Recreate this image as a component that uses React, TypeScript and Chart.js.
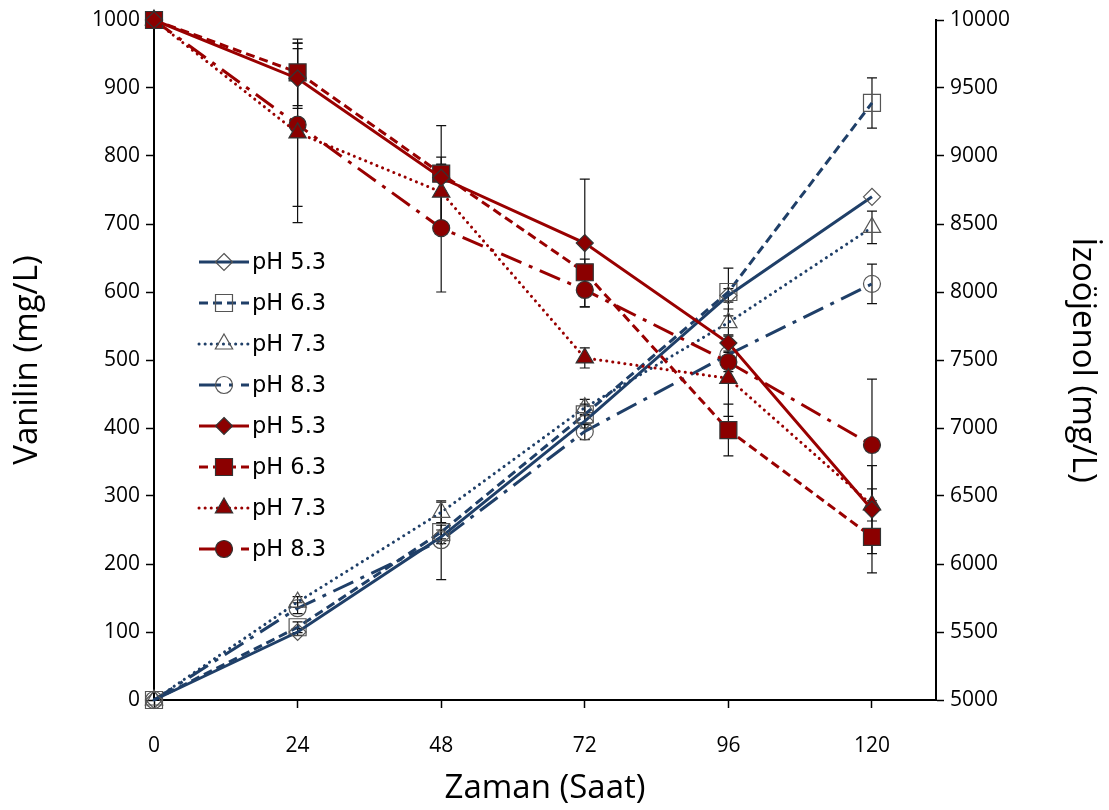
import { useEffect, useRef } from "react";
import { Chart, registerables } from "chart.js";

Chart.register(...registerables);

// ---- data ----
const hours = [0, 24, 48, 72, 96, 120];
const xTickValues = [0, 24, 48, 72, 96, 120];
const phLabels = ["pH 5.3", "pH 6.3", "pH 7.3", "pH 8.3"];

// Vanilin (mg/L) – left axis
const vanilin53 = [0, 100, 240, 410, 595, 740];
const vanilin63 = [0, 107, 247, 420, 600, 878];
const vanilin73 = [0, 144, 276, 430, 555, 695];
const vanilin83 = [0, 135, 235, 395, 508, 612];
const vanilinErr53 = [0, 5, 10, 10, 10, 0];
const vanilinErr63 = [0, 8, 10, 15, 35, 37];
const vanilinErr73 = [0, 8, 15, 12, 20, 24];
const vanilinErr83 = [0, 8, 58, 12, 12, 29];

// İzoöjenol (mg/L) – right axis
const izo53 = [10000, 9570, 8840, 8360, 7625, 6400];
const izo63 = [10000, 9615, 8870, 8145, 6985, 6200];
const izo73 = [10000, 9170, 8735, 7515, 7365, 6434];
const izo83 = [10000, 9230, 8470, 8015, 7485, 6875];
const izoErr53 = [0, 220, 96, 470, 60, 324];
const izoErr63 = [0, 245, 353, 96, 190, 265];
const izoErr73 = [0, 660, 257, 74, 280, 118];
const izoErr83 = [0, 600, 470, 125, 70, 485];

// ---- styles ----
const BLUE = "#1F3F68";
const RED = "#990000";
const RED_FILL = "#8B0000";
const TICK_FONT = "'Liberation Sans Narrow', 'Open Sans', sans-serif";
const LEGEND_FONT = "'DejaVu Sans', sans-serif";

const styles = [
  { dash: [] as number[], cap: "butt", point: "rectRot", r: 8.5 },
  { dash: [9, 5], cap: "butt", point: "rect", r: 12 },
  { dash: [0.1, 6], cap: "round", point: "triangle", r: 10 },
  { dash: [22, 8, 4, 8], cap: "butt", point: "circle", r: 8.5 },
];

function drawMarker(ctx: CanvasRenderingContext2D, style: string, x: number, y: number, r: number) {
  ctx.beginPath();
  if (style === "rectRot") {
    ctx.moveTo(x, y - r);
    ctx.lineTo(x + r, y);
    ctx.lineTo(x, y + r);
    ctx.lineTo(x - r, y);
    ctx.closePath();
  } else if (style === "rect") {
    const s = r * Math.SQRT1_2;
    ctx.rect(x - s, y - s, 2 * s, 2 * s);
  } else if (style === "triangle") {
    const a = (2 * Math.PI) / 3;
    ctx.moveTo(x, y - r);
    ctx.lineTo(x + Math.sin(a) * r, y - Math.cos(a) * r);
    ctx.lineTo(x + Math.sin(2 * a) * r, y - Math.cos(2 * a) * r);
    ctx.closePath();
  } else {
    ctx.arc(x, y, r, 0, Math.PI * 2);
  }
}

const errorBarPlugin = {
  id: "errorBars",
  beforeDatasetsDraw(chart: any) {
    const ctx = chart.ctx;
    ctx.save();
    ctx.strokeStyle = "#111";
    ctx.lineWidth = 1.2;
    chart.data.datasets.forEach((ds: any, di: number) => {
      const meta = chart.getDatasetMeta(di);
      const scale = chart.scales[ds.yAxisID];
      ds.errors.forEach((e: number, i: number) => {
        if (!e) return;
        const v = ds.data[i].y;
        const x = meta.data[i].x;
        const y1 = scale.getPixelForValue(v + e);
        const y2 = scale.getPixelForValue(v - e);
        ctx.beginPath();
        ctx.moveTo(x, y1);
        ctx.lineTo(x, y2);
        ctx.moveTo(x - 5, y1);
        ctx.lineTo(x + 5, y1);
        ctx.moveTo(x - 5, y2);
        ctx.lineTo(x + 5, y2);
        ctx.stroke();
      });
    });
    ctx.restore();
  },
};

const legendPlugin = {
  id: "innerLegend",
  afterDraw(chart: any) {
    const ctx = chart.ctx as CanvasRenderingContext2D;
    const area = chart.chartArea;
    const x0 = area.left + 45;
    const y0 = area.top + 242;
    const step = 41;
    const entries = [
      ...phLabels.map((l, i) => ({ label: l, color: BLUE, fill: "rgba(255,255,255,0)", stroke: "#555", s: styles[i] })),
      ...phLabels.map((l, i) => ({ label: l, color: RED, fill: RED_FILL, stroke: "#333", s: styles[i] })),
    ];
    ctx.save();
    entries.forEach((e, i) => {
      const y = y0 + i * step;
      ctx.beginPath();
      ctx.strokeStyle = e.color;
      ctx.lineWidth = 3;
      ctx.setLineDash(e.s.dash);
      ctx.lineCap = e.s.cap as CanvasLineCap;
      ctx.moveTo(x0, y);
      ctx.lineTo(x0 + 50, y);
      ctx.stroke();
      ctx.setLineDash([]);
      ctx.lineCap = "butt";
      drawMarker(ctx, e.s.point, x0 + 25, y, e.s.r);
      ctx.fillStyle = e.fill;
      ctx.fill();
      ctx.lineWidth = 1.2;
      ctx.strokeStyle = e.stroke;
      ctx.stroke();
      ctx.fillStyle = "#000";
      ctx.font = `22.5px ${LEGEND_FONT}`;
      ctx.textBaseline = "middle";
      ctx.textAlign = "left";
      ctx.fillText(e.label, x0 + 53, y + 1);
    });
    ctx.restore();
  },
};

export default function App() {
  const ref = useRef<HTMLCanvasElement>(null);

  useEffect(() => {
    if (!ref.current) return;
    const mk = (label: string, data: number[], errors: number[], i: number, red: boolean) => ({
      label,
      data: data.map((v, k) => ({ x: hours[k], y: v })),
      errors,
      yAxisID: red ? "yR" : "y",
      clip: false,
      borderColor: red ? RED : BLUE,
      borderWidth: 3,
      borderDash: styles[i].dash,
      borderCapStyle: styles[i].cap,
      backgroundColor: red ? RED_FILL : "rgba(255,255,255,0)",
      pointStyle: styles[i].point,
      pointRadius: styles[i].r,
      pointHoverRadius: styles[i].r,
      pointBackgroundColor: red ? RED_FILL : "rgba(255,255,255,0)",
      pointBorderColor: red ? "#333" : "#555",
      pointBorderWidth: 1.2,
      tension: 0,
      fill: false,
    });

    const datasets = [
      mk(phLabels[0], izo53, izoErr53, 0, true),
      mk(phLabels[1], izo63, izoErr63, 1, true),
      mk(phLabels[2], izo73, izoErr73, 2, true),
      mk(phLabels[3], izo83, izoErr83, 3, true),
      mk(phLabels[0], vanilin53, vanilinErr53, 0, false),
      mk(phLabels[1], vanilin63, vanilinErr63, 1, false),
      mk(phLabels[2], vanilin73, vanilinErr73, 2, false),
      mk(phLabels[3], vanilin83, vanilinErr83, 3, false),
    ];

    const tickFont = { family: TICK_FONT, size: 21 };
    const titleFont = { family: TICK_FONT, size: 33 };
    const gridOpts = { drawOnChartArea: false, drawTicks: true, tickLength: 8, color: "#000", tickWidth: 1.5 };
    const borderOpts = { display: true, color: "#000", width: 2 };
    const plain = (v: any) => String(v);

    const chart = new Chart(ref.current, {
      type: "line",
      data: { datasets: datasets as any },
      options: {
        responsive: false,
        animation: false,
        layout: { padding: { top: 20, left: 0, right: 0, bottom: 0 } },
        plugins: { legend: { display: false }, tooltip: { enabled: false } },
        scales: {
          x: {
            type: "linear",
            min: 0,
            max: 130.7,
            afterBuildTicks: (s: any) => {
              s.ticks = xTickValues.map((v) => ({ value: v }));
            },
            afterFit: (s: any) => {
              s.height = 110;
            },
            grid: gridOpts,
            border: borderOpts,
            ticks: { color: "#000", font: tickFont, padding: 25, maxRotation: 0, callback: plain },
            title: { display: true, text: "Zaman (Saat)", color: "#000", font: titleFont, padding: { top: 0, bottom: 2 } },
          },
          y: {
            type: "linear",
            position: "left",
            min: 0,
            max: 1000,
            ticks: { stepSize: 100, color: "#000", font: tickFont, padding: 6, callback: plain },
            afterFit: (s: any) => {
              s.width = 154;
            },
            grid: gridOpts,
            border: borderOpts,
            title: { display: true, text: "Vanilin (mg/L)", color: "#000", font: titleFont, padding: { top: 8, bottom: 0 } },
          },
          yR: {
            type: "linear",
            position: "right",
            min: 5000,
            max: 10000,
            ticks: { stepSize: 500, color: "#000", font: tickFont, padding: 6, callback: plain },
            afterFit: (s: any) => {
              s.width = 173;
            },
            grid: gridOpts,
            border: borderOpts,
            title: { display: true, text: "İzoöjenol (mg/L)", color: "#000", font: titleFont, padding: { top: 7, bottom: 0 } },
          },
        },
      } as any,
      plugins: [errorBarPlugin, legendPlugin],
    });
    return () => chart.destroy();
  }, []);

  return (
    <canvas
      ref={ref}
      width={1109}
      height={810}
      style={{ position: "absolute", left: 0, top: 0, display: "block", background: "#fff" }}
    />
  );
}
